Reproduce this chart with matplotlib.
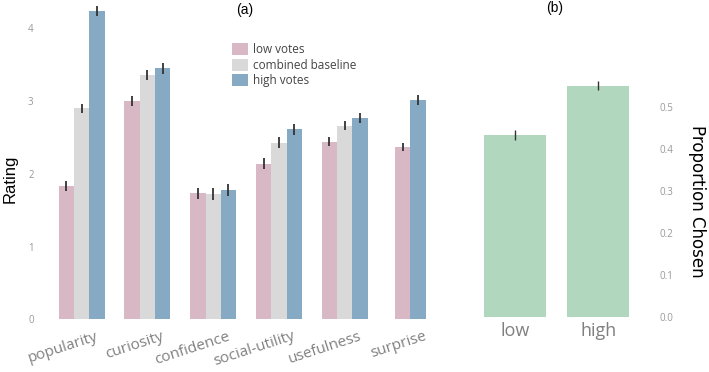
import numpy as np
import matplotlib
matplotlib.use("Agg")
import matplotlib.pyplot as plt

# panel (a): ratings by dimension
dimensions = ["popularity", "curiosity", "confidence", "social-utility", "usefulness", "surprise"]
low_votes = [1.83, 3.00, 1.73, 2.14, 2.44, 2.37]
low_err = [0.07, 0.07, 0.08, 0.075, 0.06, 0.06]
baseline = [2.90, 3.36, 1.72, 2.43, 2.66, np.nan]
baseline_err = [0.065, 0.07, 0.08, 0.07, 0.06, np.nan]
high_votes = [4.24, 3.45, 1.78, 2.61, 2.77, 3.02]
high_err = [0.07, 0.08, 0.08, 0.075, 0.065, 0.07]

# panel (b): proportion chosen
groups = ["low", "high"]
proportion = [0.433, 0.551]
proportion_err = [0.012, 0.010]

pink = "#d9b8c5"
grey = "#d9d9d9"
blue = "#86aac4"
green = "#b1d7be"

plt.rcParams["font.family"] = ["Open Sans", "DejaVu Sans"]

fig = plt.figure(figsize=(7.09, 3.72), dpi=100)
ax = fig.add_axes([0.0592, 0.1417, 0.554, 0.8583])
bx = fig.add_axes([0.6615, 0.149, 0.2468, 0.851])

w = 0.2325
x = np.arange(len(dimensions))
series = [(low_votes, low_err, pink, "low votes"),
          (baseline, baseline_err, grey, "combined baseline"),
          (high_votes, high_err, blue, "high votes")]
for i, (vals, errs, col, lab) in enumerate(series):
    for j in range(len(dimensions)):
        if np.isnan(vals[j]):
            continue
        if np.isnan(baseline[j]):
            off = (-0.5 if i == 0 else 0.5) * w
        else:
            off = (i - 1) * w
        ax.bar(x[j] + off, vals[j], w, color=col, label=lab if j == 0 else None)
        ax.errorbar(x[j] + off, vals[j], yerr=errs[j], fmt="none",
                    ecolor="#333333", elinewidth=1.3, capsize=0)

ax.set_xlim(-0.603, 5.37)
ax.set_ylim(0, 4.39)
ax.set_yticks([0, 1, 2, 3, 4])
# labels are right-aligned a little to the right of each group centre
ax.set_xticks(x + 0.28)
ax.set_xticklabels(dimensions, rotation=18, ha="right", fontsize=11, color="#808080")
ax.tick_params(axis="y", labelsize=7, colors="#999999", length=0, pad=6)
ax.tick_params(axis="x", length=0, pad=7)
for s in ax.spines.values():
    s.set_visible(False)
ax.set_ylabel("Rating", fontsize=12, family="Liberation Sans")
ax.yaxis.set_label_coords(-0.061, 0.44)
ax.text(0.515, 0.97, "(a)", transform=ax.transAxes, ha="center", va="center",
        fontsize=10, family="Liberation Sans")
ax.legend(loc="upper left", bbox_to_anchor=(0.483, 0.865), frameon=False,
          fontsize=8.5, handlelength=1.36, handleheight=1.19, handletextpad=0.45,
          labelspacing=0.21, borderaxespad=0, borderpad=0, labelcolor="#444444")

bx.bar(np.arange(len(groups)), proportion, 0.75, color=green)
bx.errorbar(np.arange(len(groups)), proportion, yerr=proportion_err, fmt="none",
            ecolor="#333333", elinewidth=1.0, capsize=0)
bx.set_xlim(-0.55, 1.55)
bx.set_ylim(0, 0.755)
bx.set_yticks([0.0, 0.1, 0.2, 0.3, 0.4, 0.5])
bx.set_yticklabels(["0.0", "0.1", "0.2", "0.3", "0.4", "0.5"])
bx.yaxis.tick_right()
bx.yaxis.set_label_position("right")
bx.set_xticks(np.arange(len(groups)))
bx.set_xticklabels(groups, fontsize=13, color="#808080")
bx.tick_params(axis="y", labelsize=7, colors="#999999", length=0, pad=11)
bx.tick_params(axis="x", length=0, pad=4)
for s in bx.spines.values():
    s.set_visible(False)
bx.set_ylabel("Proportion Chosen", fontsize=12, rotation=270, family="DejaVu Sans",
              va="center")
bx.yaxis.set_label_coords(1.305, 0.365)
bx.text(0.487, 0.975, "(b)", transform=bx.transAxes, ha="center", va="center",
        fontsize=10, family="Liberation Sans")

fig.savefig("out.png", dpi=100)
